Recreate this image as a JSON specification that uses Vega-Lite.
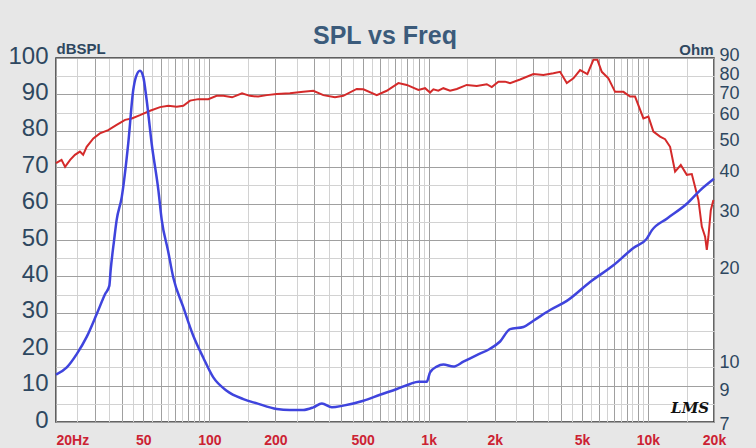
{
  "$schema": "https://vega.github.io/schema/vega-lite/v6.json",
  "width": 658,
  "height": 364,
  "autosize": {"type": "none"},
  "padding": {"left": 56, "top": 58, "right": 42, "bottom": 26},
  "background": "#e7e7e7",
  "title": {"text": "SPL vs Freq", "fontSize": 25, "font": "Liberation Sans", "fontWeight": "bold", "color": "#3b5b7b", "anchor": "middle", "frame": "group", "offset": -28, "baseline": "alphabetic"},
  "config": {"view": {"stroke": "#333333", "strokeWidth": 1.5, "fill": "white"}, "font": "Liberation Sans"},
  "datasets": {
    "spl": [
      {"f":20,"db":71.1},{"f":21.2,"db":72.0},{"f":22.0,"db":70.1},{"f":23.2,"db":72.0},{"f":24.4,"db":73.4},{"f":25.7,"db":74.3},{"f":26.6,"db":73.4},{"f":27.6,"db":75.6},{"f":29.6,"db":77.9},{"f":31.7,"db":79.3},{"f":34.6,"db":80.2},{"f":37.8,"db":81.6},{"f":41.3,"db":83.0},{"f":44.3,"db":83.4},{"f":48.3,"db":84.3},{"f":53.7,"db":85.5},{"f":59.6,"db":86.5},{"f":65,"db":86.9},{"f":71,"db":86.6},{"f":76.1,"db":86.9},{"f":81.7,"db":88.3},{"f":89.1,"db":88.7},{"f":99,"db":88.7},{"f":108,"db":89.6},{"f":116,"db":89.6},{"f":127,"db":89.2},{"f":141,"db":90.3},{"f":153,"db":89.6},{"f":167,"db":89.4},{"f":183,"db":89.8},{"f":203,"db":90.1},{"f":233,"db":90.3},{"f":268,"db":90.7},{"f":298,"db":91.0},{"f":331,"db":89.8},{"f":374,"db":89.2},{"f":408,"db":89.6},{"f":470,"db":91.5},{"f":504,"db":91.4},{"f":580,"db":89.8},{"f":644,"db":91.0},{"f":728,"db":93.1},{"f":795,"db":92.6},{"f":898,"db":91.2},{"f":963,"db":91.7},{"f":1015,"db":90.5},{"f":1051,"db":91.4},{"f":1107,"db":91.0},{"f":1167,"db":91.7},{"f":1252,"db":91.0},{"f":1344,"db":91.5},{"f":1492,"db":92.6},{"f":1657,"db":92.3},{"f":1841,"db":92.8},{"f":1940,"db":92.0},{"f":2080,"db":93.5},{"f":2230,"db":93.5},{"f":2350,"db":93.1},{"f":2611,"db":94.1},{"f":3003,"db":95.6},{"f":3336,"db":95.3},{"f":3705,"db":95.8},{"f":3974,"db":96.2},{"f":4265,"db":93.1},{"f":4571,"db":94.4},{"f":4903,"db":96.7},{"f":5294,"db":95.6},{"f":5638,"db":99.5},{"f":5880,"db":99.5},{"f":6158,"db":96.2},{"f":6600,"db":94.4},{"f":7080,"db":90.7},{"f":7726,"db":90.7},{"f":8288,"db":89.4},{"f":8734,"db":89.4},{"f":9532,"db":83.4},{"f":10046,"db":83.9},{"f":10586,"db":79.8},{"f":11358,"db":78.4},{"f":11968,"db":77.7},{"f":12612,"db":75.6},{"f":13292,"db":68.8},{"f":14112,"db":70.6},{"f":15032,"db":67.9},{"f":15842,"db":68.1},{"f":16980,"db":61.0},{"f":17598,"db":53.7},{"f":18216,"db":50.9},{"f":18546,"db":47.3},{"f":18860,"db":50.9},{"f":19340,"db":58.2},{"f":19876,"db":61.0}
    ],
    "imp": [
      {"f":20,"ohm":9.4},{"f":22.4,"ohm":9.9},{"f":24.9,"ohm":10.9},{"f":27.6,"ohm":12.3},{"f":30.7,"ohm":14.5},{"f":33.5,"ohm":16.7},{"f":35.0,"ohm":17.7},{"f":35.5,"ohm":19.8},{"f":36.8,"ohm":24.5},{"f":37.8,"ohm":28.3},{"f":39.9,"ohm":33.4},{"f":42.7,"ohm":48.9},{"f":45.0,"ohm":71.6},{"f":46.3,"ohm":78.7},{"f":48.3,"ohm":82.2},{"f":50.0,"ohm":78.7},{"f":51.8,"ohm":66.7},{"f":54.6,"ohm":48.9},{"f":58.6,"ohm":35.0},{"f":60.7,"ohm":28.3},{"f":64.8,"ohm":22.8},{"f":68.5,"ohm":18.8},{"f":76.1,"ohm":15.2},{"f":84.5,"ohm":12.4},{"f":93.9,"ohm":10.6},{"f":104.3,"ohm":9.21},{"f":120,"ohm":8.38},{"f":143,"ohm":7.89},{"f":165,"ohm":7.65},{"f":203,"ohm":7.35},{"f":233,"ohm":7.30},{"f":268,"ohm":7.30},{"f":298,"ohm":7.44},{"f":326,"ohm":7.65},{"f":362,"ohm":7.44},{"f":408,"ohm":7.53},{"f":504,"ohm":7.80},{"f":600,"ohm":8.14},{"f":716,"ohm":8.48},{"f":823,"ohm":8.79},{"f":898,"ohm":8.93},{"f":980,"ohm":8.93},{"f":1015,"ohm":9.55},{"f":1089,"ohm":9.95},{"f":1167,"ohm":10.1},{"f":1296,"ohm":9.95},{"f":1440,"ohm":10.3},{"f":1657,"ohm":10.8},{"f":1906,"ohm":11.3},{"f":2117,"ohm":11.9},{"f":2350,"ohm":13.0},{"f":2704,"ohm":13.2},{"f":3003,"ohm":13.8},{"f":3578,"ohm":14.9},{"f":4265,"ohm":15.9},{"f":5445,"ohm":18.2},{"f":6956,"ohm":20.5},{"f":8583,"ohm":23.2},{"f":9878,"ohm":24.8},{"f":10410,"ohm":26.3},{"f":12184,"ohm":28.6},{"f":15032,"ohm":31.8},{"f":17286,"ohm":35.0},{"f":20000,"ohm":38.0}
    ],
    "logo": [{"f": 15560, "db": 3.8, "t": "LMS"}]
  },
  "encoding": {
    "x": {
      "field": "f", "type": "quantitative",
      "scale": {"type": "log", "domain": [20, 20000], "nice": false},
      "axis": {
        "title": null,
        "values": [20,25,30,35,40,45,50,55,60,65,70,75,80,85,90,95,100,150,200,250,300,350,400,450,500,550,600,650,700,750,800,850,900,950,1000,1500,2000,2500,3000,3500,4000,4500,5000,5500,6000,6500,7000,7500,8000,8500,9000,9500,10000,15000,20000],
        "labelExpr": "datum.value == 20 ? '20Hz' : indexof([50,100,200,500], datum.value) >= 0 ? '' + datum.value : indexof([1000,2000,5000,10000,20000], datum.value) >= 0 ? (datum.value / 1000) + 'k' : ''",
        "grid": true,
        "gridColor": {"condition": {"test": "indexof([20,30,40,50,60,70,80,90,100,200,300,400,500,600,700,800,900,1000,2000,3000,4000,5000,6000,7000,8000,9000,10000,20000], datum.value) >= 0", "value": "#a0a0a0"}, "value": "#d2d2d2"},
        "gridWidth": 1,
        "ticks": false, "tickSize": 0, "domain": false,
        "labelColor": "#cc2233", "labelFontSize": 14, "labelFontWeight": "bold",
        "labelPadding": 11, "labelBaseline": "top",
        "labelAlign": {"condition": {"test": "datum.value == 20", "value": "left"}, "value": "center"},
        "labelOverlap": false
      }
    }
  },
  "layer": [
    {
      "data": {"name": "spl"},
      "mark": {"type": "line", "color": "#d42a2a", "strokeWidth": 2},
      "encoding": {
        "y": {
          "field": "db", "type": "quantitative",
          "scale": {"domain": [0, 100], "nice": false},
          "axis": {
            "orient": "left",
            "values": [0,5,10,15,20,25,30,35,40,45,50,55,60,65,70,75,80,85,90,95,100],
            "labelExpr": "datum.value % 10 == 0 ? datum.label : ''",
            "grid": true,
            "gridColor": {"condition": {"test": "datum.value % 10 == 0", "value": "#a0a0a0"}, "value": "#d2d2d2"},
            "ticks": false, "tickSize": 0, "domain": false,
            "labelFontSize": 24, "labelColor": "#2e4760", "labelPadding": 8, "labelOffset": -2, "labelOverlap": false,
            "title": "dBSPL", "titleAngle": 0, "titleAlign": "left", "titleBaseline": "alphabetic",
            "titleX": 0, "titleY": -5, "titleFontSize": 15, "titleFontWeight": "bold", "titleColor": "#2e4760"
          }
        }
      }
    },
    {
      "data": {"name": "imp"},
      "mark": {"type": "line", "color": "#3f44dd", "strokeWidth": 2.5, "interpolate": "monotone"},
      "encoding": {
        "y": {
          "field": "ohm", "type": "quantitative",
          "scale": {"type": "log", "domain": [6.7, 90], "nice": false},
          "axis": {
            "orient": "right",
            "values": [7,9,10,20,30,40,50,60,70,80,90],
            "grid": false, "ticks": false, "tickSize": 0, "domain": false,
            "labelFontSize": 18, "labelColor": "#2e4760", "labelPadding": 5, "labelOverlap": false,
            "labelOffset": {"condition": [
              {"test": "datum.value == 90", "value": -3},
              {"test": "datum.value == 10", "value": -3},
              {"test": "datum.value == 9", "value": 10},
              {"test": "datum.value == 7", "value": 9}
            ], "value": 0},
            "title": "Ohm", "titleAngle": 0, "titleAlign": "right", "titleBaseline": "alphabetic",
            "titleX": -1, "titleY": -4, "titleFontSize": 15, "titleFontWeight": "bold", "titleColor": "#2e4760"
          }
        }
      }
    },
    {
      "data": {"name": "logo"},
      "mark": {"type": "text", "font": "DejaVu Serif", "fontStyle": "italic", "fontWeight": "bold", "fontSize": 15, "color": "#111111"},
      "encoding": {
        "y": {"field": "db", "type": "quantitative", "scale": {"domain": [0, 100], "nice": false}, "axis": null},
        "text": {"field": "t"}
      }
    }
  ],
  "resolve": {"scale": {"y": "independent"}, "axis": {"y": "independent"}}
}
